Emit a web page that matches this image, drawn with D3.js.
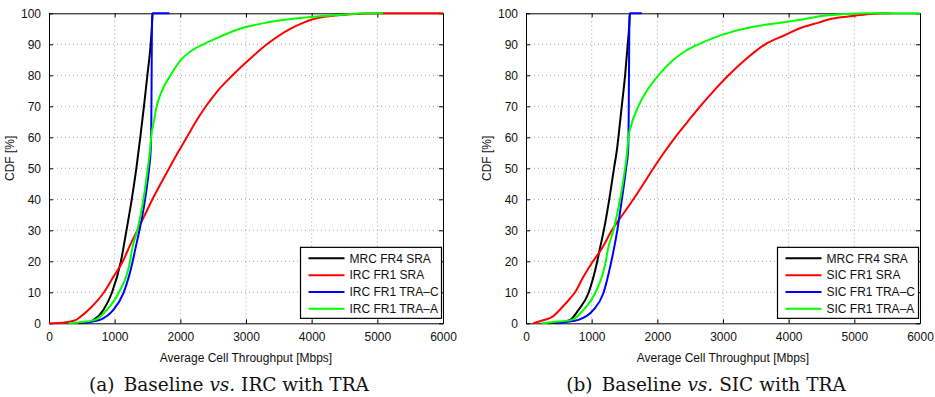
<!DOCTYPE html>
<html><head><meta charset="utf-8">
<script src="https://cdn.jsdelivr.net/npm/d3@7/dist/d3.min.js"></script>
<style>
html,body{margin:0;padding:0;background:#fff;}
svg{display:block;}
</style></head>
<body><svg id="chart" width="935" height="397"></svg>
<script>
// ---- data ----
const xTicks = [0, 1000, 2000, 3000, 4000, 5000, 6000];
const yTicks = [0, 10, 20, 30, 40, 50, 60, 70, 80, 90, 100];
const xLabel = "Average Cell Throughput [Mbps]";
const yLabel = "CDF [%]";
const seriesColors = ["#000000", "#ff0000", "#0000ff", "#00ff00"];

// panel (a)  [throughput Mbps, CDF %]
const namesA = ["MRC FR4 SRA", "IRC FR1 SRA", "IRC FR1 TRA\u2013C", "IRC FR1 TRA\u2013A"];
const mrcA = [[450,0],[600,0.3],[676,1],[828,4.3],[955,9.7],[1095,20],[1180,30],[1260,40],[1330,50],[1390,60],[1446,70],[1498,80],[1548,90],[1568,96],[1578,100]];
const ircSraA = [[0,0],[200,0.2],[400,1],[472,2],[636,5],[838,10],[981,15],[1125,20],[1230,25],[1346,30],[1460,35],[1575,40],[1700,45],[1830,50],[1960,55],[2099,60],[2235,65],[2390,70],[2570,75],[2795,80],[3045,85],[3318,90],[3674,95],[3877,97],[4004,98],[4233,99],[4600,99.7],[5000,100],[6000,100]];
const ircTraCA = [[520,0],[640,0.5],[777,1.1],[980,4.3],[1133,9.7],[1275,20],[1311,23.6],[1377,30],[1463,40],[1524,50],[1549,56],[1558,65],[1563,80],[1567,95],[1572,100],[1834,100]];
const ircTraAA = [[300,0],[450,0.3],[701,1.1],[879,4.3],[1057,9.7],[1234,20],[1262,23.6],[1346,30],[1438,40],[1504,50],[1539,56],[1555,60],[1600,65.5],[1640,70],[1720,75],[1850,80],[2010,85],[2175,88],[2352,90],[2556,92],[2911,95],[3318,97],[3623,98],[4080,99],[4500,99.6],[4850,100],[5087,100]];
const captionA = ["(a)", "Baseline ", "vs.", " IRC with TRA"];

// panel (b)
const namesB = ["MRC FR4 SRA", "SIC FR1 SRA", "SIC FR1 TRA\u2013C", "SIC FR1 TRA\u2013A"];
const mrcB = [[340,0],[520,0.3],[671,1.1],[798,4.3],[950,9.7],[1085,20],[1120,23.6],[1185,30],[1268,40],[1340,50],[1385,56],[1407,60],[1458,70],[1509,80],[1549,90],[1572,96],[1582,100]];
const sicSraB = [[112,0],[262,1],[392,2],[544,5],[670,8],[747,10],[874,15],[1020,20],[1140,23.6],[1180,25],[1306,30],[1470,35],[1636,40],[1790,45],[1940,50],[2100,55],[2271,60],[2460,65],[2652,70],[2860,75],[3084,80],[3338,85],[3642,90],[3947,93],[4151,95],[4456,97],[4608,98],[4913,99],[5200,99.7],[5420,100],[5560,100]];
const sicTraCB = [[480,0],[600,0.4],[798,1.1],[1026,4.3],[1178,9.7],[1300,20],[1335,23.6],[1390,30],[1460,40],[1524,50],[1556,56],[1563,65],[1568,80],[1573,95],[1578,100],[1763,100]];
const sicTraAB = [[240,0],[420,0.4],[697,1.1],[874,4.3],[1052,9.7],[1215,20],[1245,23.6],[1331,30],[1433,40],[1509,50],[1544,56],[1559,60],[1590,63],[1711,70],[1839,75],[2017,80],[2245,85],[2440,88],[2626,90],[2850,92],[3135,94],[3320,95],[3642,96.3],[3897,97],[4202,98],[4456,99],[4710,99.5],[5166,100],[6000,100]];
const captionB = ["(b)", "Baseline ", "vs.", " SIC with TRA"];

// ---- drawing ----
const svg = d3.select("#chart");
const FONT = "Liberation Sans, Arial, Helvetica, sans-serif";

function drawPanel(left, series, names, caption) {
  const W = 394, H = 310, top = 13.3;
  const g = svg.append("g").attr("transform", `translate(${left},${top})`);
  const x = d3.scaleLinear().domain([0, 6000]).range([0, W]);
  const y = d3.scaleLinear().domain([0, 100]).range([H, 0]);

  // grid
  const grid = g.append("g").attr("stroke", "#8c8c8c").attr("stroke-width", 0.8)
    .attr("stroke-dasharray", "1,3");
  grid.selectAll("line.gx").data(xTicks.slice(1, -1)).join("line")
    .attr("x1", d => x(d)).attr("x2", d => x(d)).attr("y1", 0).attr("y2", H);
  grid.selectAll("line.gy").data(yTicks.slice(1, -1)).join("line")
    .attr("class","gy")
    .attr("y1", d => y(d)).attr("y2", d => y(d)).attr("x1", 0).attr("x2", W);

  // axes (inward ticks)
  const fmt = d3.format("d");
  const ax = g.append("g").attr("transform", `translate(0,${H})`)
    .call(d3.axisBottom(x).tickValues(xTicks).tickFormat(fmt).tickSizeInner(-4).tickSizeOuter(0).tickPadding(9));
  const ay = g.append("g")
    .call(d3.axisLeft(y).tickValues(yTicks).tickFormat(fmt).tickSizeInner(-4).tickSizeOuter(0).tickPadding(8));
  const axT = g.append("g")
    .call(d3.axisTop(x).tickValues(xTicks).tickSizeInner(-4).tickSizeOuter(0).tickFormat(""));
  const ayR = g.append("g").attr("transform", `translate(${W},0)`)
    .call(d3.axisRight(y).tickValues(yTicks).tickSizeInner(-4).tickSizeOuter(0).tickFormat(""));
  [ax, ay, axT, ayR].forEach(a => {
    a.select(".domain").attr("stroke", "#000").attr("stroke-width", 1);
    a.selectAll(".tick line").attr("stroke", "#000");
    a.selectAll("text").attr("font-family", FONT).attr("font-size", 12).attr("fill", "#111");
  });

  // curves
  const line = d3.line().x(d => x(d[0])).y(d => y(d[1])).curve(d3.curveMonotoneX);
  series.forEach((s, i) => {
    g.append("path").datum(s).attr("d", line)
      .attr("fill", "none").attr("stroke", seriesColors[i])
      .attr("stroke-width", 2).attr("stroke-linejoin", "round");
  });

  // legend
  const lg = g.append("g").attr("transform", `translate(${x(3830)},${y(24.5)})`);
  lg.append("rect").attr("x", 0).attr("y", 0).attr("width", 141).attr("height", 71)
    .attr("fill", "#fff").attr("stroke", "#000").attr("stroke-width", 1.2);
  names.forEach((n, i) => {
    const ry = 11 + i * 16.8;
    lg.append("line").attr("x1", 8).attr("x2", 44).attr("y1", ry).attr("y2", ry)
      .attr("stroke", seriesColors[i]).attr("stroke-width", 2);
    lg.append("text").attr("x", 49).attr("y", ry).attr("dy", "0.35em")
      .attr("font-family", FONT).attr("font-size", 12).attr("fill", "#111").text(n);
  });

  // axis labels
  g.append("text").attr("x", W / 2).attr("y", H + 25 + 14).attr("text-anchor", "middle")
    .attr("font-family", FONT).attr("font-size", 12).attr("fill", "#111").text(xLabel);
  g.append("text").attr("transform", `translate(${-35},${H / 2 - 10}) rotate(-90)`)
    .attr("text-anchor", "middle").attr("font-family", FONT).attr("font-size", 12)
    .attr("fill", "#111").text(yLabel);

  // caption
  const cap = g.append("text").attr("x", W / 2 - 17).attr("y", 391 - top)
    .attr("text-anchor", "middle").attr("font-family", "DejaVu Serif, Liberation Serif, serif")
    .attr("font-size", 18.5).attr("fill", "#111");
  cap.append("tspan").text(caption[0] + "\u2002");
  cap.append("tspan").text(caption[1]);
  cap.append("tspan").attr("font-style", "italic").text(caption[2]);
  cap.append("tspan").text(caption[3]);
}

drawPanel(49, [mrcA, ircSraA, ircTraCA, ircTraAA], namesA, captionA);
drawPanel(526, [mrcB, sicSraB, sicTraCB, sicTraAB], namesB, captionB);
</script>
</body></html>
